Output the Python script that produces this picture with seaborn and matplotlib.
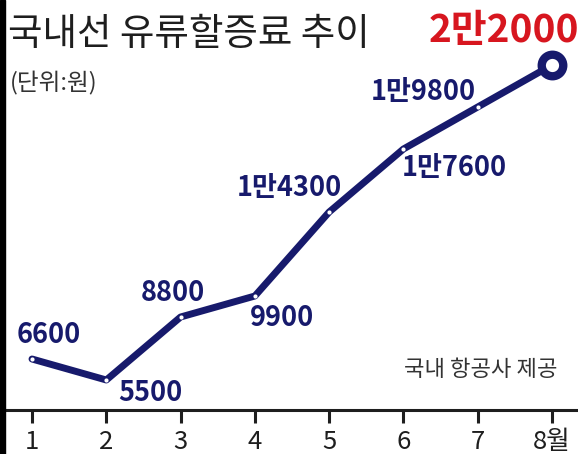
import matplotlib
matplotlib.use("Agg")
import matplotlib.pyplot as plt
import matplotlib.patches as mpatches
import seaborn as sns
import pandas as pd

# ---------------- DATA ----------------

months = [1, 2, 3, 4, 5, 6, 7, 8]
month_labels = ["1", "2", "3", "4", "5", "6", "7", "8월"]
fees = [6600, 5500, 8800, 9900, 14300, 17600, 19800, 22000]
fee_labels = ["6600", "5500", "8800", "9900", "1만4300", "1만7600", "1만9800", "2만2000"]
# label offsets in pixels from each point
label_offsets = [(17, 24), (44, -13), (-8, 24), (27, -22),
                 (-40, 24), (51, -19), (-54, 15), (-48, 35)]

TITLE = "국내선 유류할증료 추이"
UNIT = "(단위:원)"
SOURCE = "국내 항공사 제공"

NAVY = "#171a6c"
RED = "#d7161f"
DARK = "#1e1e1e"

# ---------------- PLOT ----------------

sns.set_theme(style="white")
plt.rcParams["font.family"] = ["Noto Sans CJK KR", "DejaVu Sans"]

df = pd.DataFrame({"month": months, "fee": fees})

fig = plt.figure(figsize=(5.78, 4.54), dpi=100)
ax = fig.add_axes([0, 44 / 454, 1, 410 / 454])

sns.lineplot(data=df, x="month", y="fee", ax=ax, color=NAVY, linewidth=5,
             marker="o", markersize=3, markerfacecolor="white",
             markeredgewidth=0, solid_capstyle="round", solid_joinstyle="round")

# ring marker on the last point
ax.plot(months[-1], fees[-1], marker="o", markersize=15.5,
        markerfacecolor="white", markeredgecolor=NAVY, markeredgewidth=6,
        zorder=5)

for i, (m, v, lab) in enumerate(zip(months, fees, fee_labels)):
    last = i == len(months) - 1
    ax.annotate(lab, (m, v), xytext=label_offsets[i], textcoords="offset pixels",
                ha="center", va="center",
                fontsize=28 if last else 19.5,
                fontweight="bold",
                color=RED if last else NAVY)

ax.set_xlim(0.569, 8.35)
ax.set_ylim(3929, 25405)
ax.set_xticks(months)
ax.set_xticklabels(month_labels)
ax.set_yticks([])
ax.set_xlabel("")
ax.set_ylabel("")

for side in ["top", "right", "left"]:
    ax.spines[side].set_visible(False)
ax.spines["bottom"].set_color(DARK)
ax.spines["bottom"].set_linewidth(2.2)
ax.tick_params(axis="x", direction="out", length=9.5, width=2.2, color=DARK,
               labelsize=18.5, labelcolor=DARK, pad=4, bottom=True)

fig.text(8 / 578, 1 - 35 / 454, TITLE, fontsize=27, fontweight="medium",
         color=DARK, ha="left", va="center")
fig.text(10 / 578, 1 - 83 / 454, UNIT, fontsize=17, color="#333333",
         ha="left", va="center")
fig.text(558 / 578, 1 - 369 / 454, SOURCE, fontsize=16, color="#333333",
         ha="right", va="center")

# dark strip on the left edge
fig.patches.append(mpatches.Rectangle((0, 0), 5 / 578, 1, transform=fig.transFigure,
                                      color="black", zorder=10))

fig.savefig("out.png", dpi=100)
